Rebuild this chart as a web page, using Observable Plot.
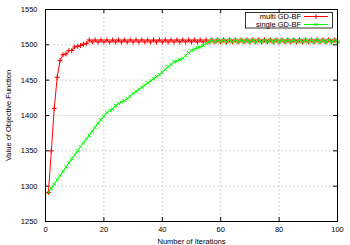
<!DOCTYPE html>
<html><head><meta charset="utf-8">
<script src="https://cdn.jsdelivr.net/npm/d3@7"></script>
<script src="https://cdn.jsdelivr.net/npm/@observablehq/plot@0.6"></script>
<style>body{margin:0;background:#fff} svg{font-family:"Liberation Sans",Arial,sans-serif}</style>
</head><body><div id="chart"></div>
<script>
const seriesNames = ["multi GD-BF", "single GD-BF"];
const iterations = d3.range(1, 101);
const multiValues = [
  1291,1350,1410,1454,1478,1486,1487,1492,1492,1497,
  1498,1499,1501,1502,1507,1504,1507,1504,1507,1504,
  1507,1504,1507,1504,1507,1504,1507,1504,1507,1504,
  1507,1504,1507,1504,1507,1504,1507,1504,1507,1504,
  1507,1504,1507,1504,1507,1504,1507,1504,1507,1504,
  1507,1504,1507,1504,1507,1504,1507,1504,1507,1504,
  1507,1504,1507,1504,1507,1504,1507,1504,1507,1504,
  1507,1504,1507,1504,1507,1504,1507,1504,1507,1504,
  1507,1504,1507,1504,1507,1504,1507,1504,1507,1504,
  1507,1504,1507,1504,1507,1504,1507,1504,1507,1504
];
const singleValues = [
  1291,1297,1303,1309,1315,1321,1327,1333,1339,1344,
  1350,1356,1361,1367,1372,1378,1383,1389,1394,1399,
  1404,1407,1409,1414,1417,1419,1421,1424,1427,1431,
  1434,1437,1440,1443,1446,1449,1452,1455,1458,1461,
  1465,1469,1472,1476,1477,1479,1481,1485,1489,1492,
  1494,1496,1497,1499,1502,1504,1507,1504,1507,1504,
  1507,1504,1507,1504,1507,1504,1507,1504,1507,1504,
  1507,1504,1507,1504,1507,1504,1507,1504,1507,1504,
  1507,1504,1507,1504,1507,1504,1507,1504,1507,1504,
  1507,1504,1507,1504,1507,1504,1507,1504,1507,1504
];
const xTicks = [0, 20, 40, 60, 80, 100];
const yTicks = [1250, 1300, 1350, 1400, 1450, 1500, 1550];
const xGrid = [20, 40, 60, 80];
const yGrid = [1300, 1350, 1400, 1450, 1500];
const colors = ["#ff0000", "#00ff00"];

const multiRows = iterations.map((it, i) => ({it, v: multiValues[i]}));
const singleRows = iterations.map((it, i) => ({it, v: singleValues[i]}));

const W = 350, H = 245, ML = 45, MR = 13, MT = 9, MB = 24;
const PW = W - ML - MR, PH = H - MT - MB;
const grid = {stroke: "#c8c8c8", strokeOpacity: 1, strokeDasharray: "2,2", strokeWidth: 0.8};

const chart = Plot.plot({
  width: W, height: H, marginLeft: ML, marginRight: MR, marginTop: MT, marginBottom: MB,
  style: {fontSize: "7.5px", fontFamily: '"Liberation Sans",Arial,sans-serif', background: "#fff", color: "#000"},
  x: {domain: [0, 100], ticks: xTicks, tickFormat: d3.format("d"), tickSize: 0, tickPadding: 5, label: "Number of Iterations", labelAnchor: "center", labelOffset: 22, labelArrow: "none"},
  y: {domain: [1250, 1550], ticks: yTicks, tickFormat: d3.format("d"), tickSize: 0, tickPadding: 8, label: "Value of Objective Function", labelAnchor: "center", labelOffset: 40, labelArrow: "none"},
  marks: [
    Plot.ruleX(xGrid, grid),
    Plot.ruleY(yGrid, grid),
    Plot.ruleX(xTicks, {stroke: "#000", insetTop: PH - 4}),
    Plot.ruleX(xTicks, {stroke: "#000", insetBottom: PH - 4}),
    Plot.ruleY(yTicks, {stroke: "#000", insetRight: PW - 4}),
    Plot.ruleY(yTicks, {stroke: "#000", insetLeft: PW - 4}),
    Plot.line(multiRows, {x: "it", y: "v", stroke: colors[0], strokeWidth: 1}),
    Plot.dot(multiRows, {x: "it", y: "v", symbol: "plus", r: 1.7, stroke: colors[0], strokeWidth: 1}),
    Plot.line(singleRows, {x: "it", y: "v", stroke: colors[1], strokeWidth: 1}),
    Plot.dot(singleRows, {x: "it", y: "v", symbol: "times", r: 1.7, stroke: colors[1], strokeWidth: 1}),
    Plot.frame({stroke: "#000", strokeWidth: 1})
  ]
});
document.getElementById("chart").appendChild(chart);

// legend inside the plot (top right)
const svg = d3.select(chart);
const lg = svg.append("g").attr("font-size", 7.5);
lg.append("rect").attr("x", 245.5).attr("y", 12.5).attr("width", 87).attr("height", 15.5)
  .attr("fill", "#fff").attr("stroke", "#000").attr("stroke-width", 0.8);
const symbols = [d3.symbolPlus, d3.symbolTimes];
seriesNames.forEach((name, i) => {
  const cy = 16.5 + i * 8;
  lg.append("text").attr("x", 301).attr("y", cy).attr("dy", "0.35em").attr("text-anchor", "end").attr("fill", "#000").text(name);
  lg.append("line").attr("x1", 304).attr("x2", 328).attr("y1", cy).attr("y2", cy).attr("stroke", colors[i]);
  lg.append("path").attr("d", d3.symbol(symbols[i], 9)()).attr("transform", `translate(316,${cy})`)
    .attr("fill", "none").attr("stroke", colors[i]);
});
</script>
</body></html>
